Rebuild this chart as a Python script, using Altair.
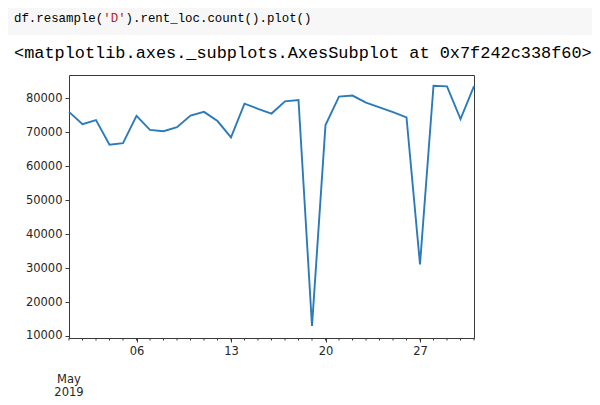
import altair as alt
import pandas as pd

# ---- data ----
days = list(range(1, 32))
counts = [76000, 72400, 73600, 66300, 66800, 74800, 70700, 70300, 71500, 74900,
          76000, 73300, 68500, 78400, 76900, 75500, 79100, 79500, 12950, 72100,
          80500, 80800, 78700, 77300, 75900, 74400, 31100, 83700, 83500, 73900,
          83600]
dates = [f"2019-05-{d:02d}" for d in days]
major_days = [6, 13, 20, 27]
y_ticks = [10000, 20000, 30000, 40000, 50000, 60000, 70000, 80000]
code_parts = ["df.resample(", "'D'", ").rent_loc.count().plot()"]
output_text = "<matplotlib.axes._subplots.AxesSubplot at 0x7f242c338f60>"
period_label = "May\n2019"

df = pd.DataFrame({"date": dates, "count": counts})
label_df = pd.DataFrame({"date": [dates[0]], "label": [period_label]})
one = pd.DataFrame({"k": [0]})

W, H = 405, 263
TXT = "#262626"
SPINE = "#3a3a3a"

def dt(d):
    return alt.DateTime(year=2019, month=5, date=d, utc=True)

xscale = alt.Scale(type="utc", domain=[dt(1), dt(31)], nice=False)
yscale = alt.Scale(domain=[9400, 86860], nice=False, zero=False)

line = alt.Chart(df).mark_line(color="#2b7bba", strokeWidth=1.9).encode(
    x=alt.X("date:T", scale=xscale, title=None,
            axis=alt.Axis(values=[dt(d) for d in major_days],
                          labelExpr="utcFormat(datum.value, '%d')",
                          tickSize=4, tickColor=SPINE, domain=False, grid=False,
                          labelFont="DejaVu Sans", labelFontSize=11.5,
                          labelColor=TXT, labelPadding=3)),
    y=alt.Y("count:Q", scale=yscale, title=None,
            axis=alt.Axis(values=y_ticks, format="d", tickSize=4,
                          tickColor=SPINE, domain=False, grid=False,
                          labelFont="DejaVu Sans", labelFontSize=11.5,
                          labelColor=TXT, labelPadding=3)),
)

minor = alt.Chart(df).mark_rule(color=SPINE, strokeWidth=1).encode(
    x=alt.X("date:T"),
    y=alt.value(H),
    y2=alt.value(H + 2.5),
)

period = alt.Chart(label_df).mark_text(
    lineBreak="\n", align="center", baseline="middle", font="DejaVu Sans",
    fontSize=11.5, color=TXT, lineHeight=12.5
).encode(
    x=alt.X("date:T"),
    y=alt.value(305),
    text="label:N",
)

cell_bg = alt.Chart(one).mark_rect(color="#f7f7f7").encode(
    x=alt.value(-61), x2=alt.value(523), y=alt.value(-67), y2=alt.value(-40)
)

CW = 12.4 * 0.6
x0 = -55
code_layers = []
colors = ["#000000", "#BA2121", "#000000"]
pos = x0
for part, col in zip(code_parts, colors):
    code_layers.append(
        alt.Chart(one).mark_text(align="left", baseline="middle",
                                 font="Liberation Mono", fontSize=12.4,
                                 color=col).encode(
            x=alt.value(pos), y=alt.value(-57), text=alt.value(part))
    )
    pos += len(part) * CW

out_txt = alt.Chart(one).mark_text(align="left", baseline="middle",
                                   font="Liberation Mono", fontSize=16.9,
                                   color="#000000").encode(
    x=alt.value(x0), y=alt.value(-22), text=alt.value(output_text))

chart = alt.layer(line, minor, period, cell_bg, *code_layers, out_txt).properties(
    width=W, height=H,
    autosize=alt.AutoSizeParams(type="none"),
    padding={"left": 61, "top": 67, "right": 118, "bottom": 59},
    background="white",
).configure_view(stroke=SPINE, strokeWidth=1)

chart.save("out.html", embed_options={"renderer": "svg", "actions": False})
